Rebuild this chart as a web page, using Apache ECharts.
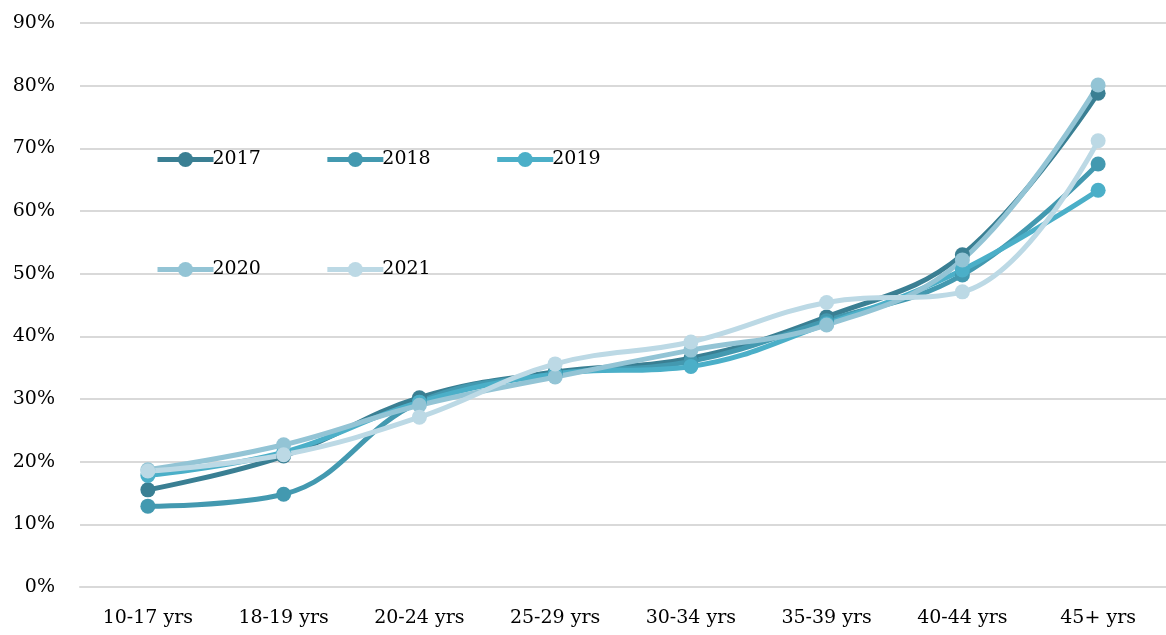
<!DOCTYPE html>
<html>
<head>
<meta charset="utf-8">
<script src="https://cdn.jsdelivr.net/npm/echarts@6/dist/echarts.min.js"></script>
<style>
    html, body { margin: 0; padding: 0; background: #fff; }
    #chart { width: 1166px; height: 635px; }
</style>
</head>
<body>
<div id="chart"></div>
<script>
var categories = ['10-17 yrs', '18-19 yrs', '20-24 yrs', '25-29 yrs', '30-34 yrs', '35-39 yrs', '40-44 yrs', '45+ yrs'];
var years = ['2017', '2018', '2019', '2020', '2021'];
var colors = ['#3a7f93', '#4399b0', '#4bafc8', '#93c4d5', '#bcd9e5'];

var data2017 = [15.5, 20.9, 30.2, 34.3, 36.5, 43.1, 53.0, 78.8];
var data2018 = [12.9, 14.8, 29.5, 34.0, 36.0, 42.5, 49.8, 67.5];
var data2019 = [17.8, 21.5, 29.5, 34.0, 35.2, 42.0, 50.6, 63.3];
var data2020 = [18.7, 22.7, 29.0, 33.5, 37.8, 41.8, 52.2, 80.1];
var data2021 = [18.5, 21.1, 27.1, 35.6, 39.1, 45.4, 47.1, 71.2];
var allData = [data2017, data2018, data2019, data2020, data2021];

var fontFamily = '"DejaVu Serif", "Liberation Serif", serif';

function buildSeries() {
    var list = [];
    for (var i = 0; i < years.length; i++) {
        list.push({
            name: years[i],
            type: 'line',
            smooth: 0.4,
            data: allData[i],
            symbol: 'circle',
            symbolSize: 15,
            lineStyle: { width: 5, color: colors[i] },
            itemStyle: { color: colors[i] }
        });
    }
    return list;
}

function legendRow(names, top) {
    return {
        data: names,
        left: 150,
        top: top,
        itemWidth: 56,
        itemHeight: 19,
        itemGap: 64,
        lineStyle: { width: 5 },
        textStyle: { fontSize: 19, color: '#000', fontFamily: fontFamily, padding: [0, 0, 0, -6] }
    };
}

var chart = echarts.init(document.getElementById('chart'));
var options = {
    animation: false,
    color: colors,
    textStyle: { fontFamily: fontFamily },
    grid: {
        left: 80,
        right: 0,
        top: 23,
        bottom: 48
    },
    legend: [
        legendRow(['2017', '2018', '2019'], 145),
        legendRow(['2020', '2021'], 255)
    ],
    xAxis: {
        type: 'category',
        data: categories,
        axisLine: { show: true, lineStyle: { color: '#d9d9d9', width: 2 } },
        axisTick: { show: false },
        axisLabel: { fontSize: 19, color: '#000', margin: 22, fontFamily: fontFamily }
    },
    yAxis: {
        type: 'value',
        min: 0,
        max: 90,
        interval: 10,
        axisLine: { show: false },
        axisTick: { show: false },
        splitLine: { lineStyle: { color: '#d9d9d9', width: 2 } },
        axisLabel: {
            fontSize: 19,
            color: '#000',
            margin: 25,
            fontFamily: fontFamily,
            formatter: '{value}%'
        }
    },
    series: buildSeries()
};
chart.setOption(options);
</script>
</body>
</html>
